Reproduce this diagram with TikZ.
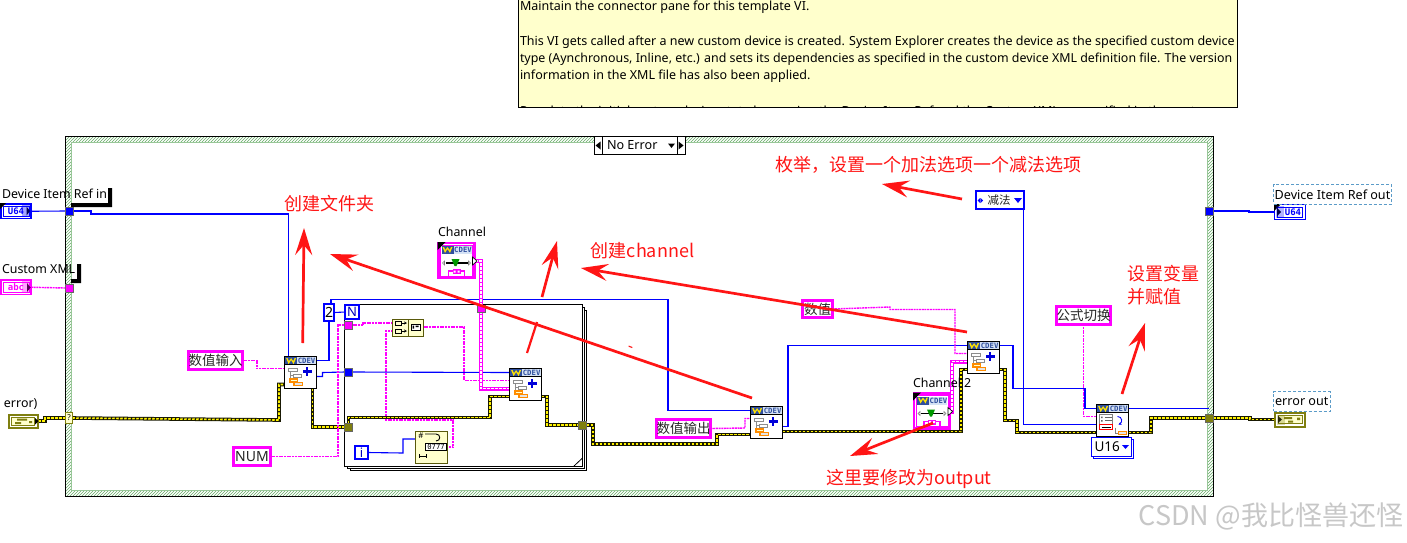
\documentclass[tikz,border=0pt]{standalone}
\usepackage{fontspec}
\setmainfont{Noto Sans}
\newfontfamily\cjk{Noto Sans CJK SC}
\newfontfamily\monob{DejaVu Sans Mono}[Scale=1]
\usetikzlibrary{arrows.meta,patterns,calc}
\pgfdeclarelayer{bg}
\pgfdeclarelayer{wires}
\pgfsetlayers{bg,wires,main}
\definecolor{lvblue}{HTML}{0000FF}
\definecolor{lvpink}{HTML}{FF00FF}
\definecolor{lvolive}{HTML}{7F7F10}
\definecolor{lvpale}{HTML}{FFFFCC}
\definecolor{lvred}{HTML}{FF1515}
\definecolor{lvdash}{HTML}{5B9BC8}
\definecolor{hdr}{HTML}{2F4F9E}
\definecolor{hdrl}{HTML}{D5E2F5}
\newcommand{\fsz}[1]{\fontsize{#1}{#1}\selectfont}
\tikzset{
  every node/.style={outer sep=0},
  bluewire/.style={draw=lvblue,line width=1.1},
  strwire/.style={draw=lvpink,line width=1.4,dash pattern=on 2 off 0.7},
  classwire/.style={draw=lvpink,line width=4,postaction={draw=white,line width=1.3,dash pattern=on 3 off 1}},
  errwire/.style={draw=black!80!lvolive,line width=3.6,postaction={draw=yellow,line width=1.6,dash pattern=on 2.5 off 1.5}},
  redarrow/.style={draw=lvred,line width=2.7,-{Stealth[length=27,width=17,inset=10]}},
  redtext/.style={text=lvred,inner sep=0,font=\cjk\fsz{18}},
  lab/.style={inner sep=0,font=\fsz{12.4},anchor=west},
  notetext/.style={inner sep=0,font=\fsz{12.52},anchor=west,text=black},
  strconst/.style={draw=lvpink,line width=3,fill=white,inner sep=0,font=\cjk\fsz{13.5},text=black!85},
  tunnel/.style={draw=black!60,line width=0.8,minimum size=8,inner sep=0},
  cdevbox/.style={draw=black,line width=1.2,fill=white,minimum width=32,minimum height=32,inner sep=0},
  palebox/.style={draw=lvolive!70!black,line width=1,fill=lvpale,inner sep=0},
  bluebox/.style={draw=lvblue,line width=2.4,fill=white,inner sep=0},
  dashlab/.style={draw=lvdash,line width=0.8,dash pattern=on 3 off 2,inner sep=0,font=\fsz{12.6},text=black},
}
% header strip shared by the CDEV icons: #1 x offset, #2 y offset, #3 width
\newcommand{\cdevhead}[3]{%
  \fill[hdrl] (#1+12,#2) rectangle (#1+#3,#2+8);
  \fill[hdr] (#1,#2) rectangle (#1+12,#2+8);
  \fill[yellow!85!orange] (#1+1,#2+1) -- (#1+3.5,#2+7) -- (#1+6,#2+3) -- (#1+8.5,#2+7) -- (#1+11,#2+1) -- (#1+9.5,#2+1) -- (#1+8.2,#2+4) -- (#1+6,#2+1) -- (#1+3.8,#2+4) -- (#1+2.5,#2+1) -- cycle;
  \node[inner sep=0,text=hdr,font=\monob\bfseries\fsz{7.3}] at (#1+21.5,#2+4.2) {CDEV};
}
% CDEV node: #1 name, #2 x left, #3 y top, #4 body drawing
\newcommand{\cdevnode}[4]{%
  \node[cdevbox,anchor=north west] (#1) at (#2,#3) {};
  \foreach \i/\d in {1/4,2/12,3/20,4/28}{
    \coordinate (#1-l\i) at (#2,#3+\d);
    \coordinate (#1-r\i) at (#2+32,#3+\d);
  }
  \begin{scope}[shift={(#2,#3)}]
    \cdevhead{0.6}{0.6}{30.8}
    \draw[black] (0,8) -- (32,8);
    #4
  \end{scope}
}
\newcommand{\plusbody}{%
  \draw[black!45,line width=0.9] (6,14) -- (6,24) -- (9,24) (6,19) -- (10,19);
  \draw[black!45,fill=white,line width=0.7] (3.5,12) rectangle (13,15);
  \draw[black!45,fill=white,line width=0.7] (9,17.5) rectangle (17,20.5);
  \draw[orange!90!yellow,fill=lvpale,line width=1.2] (5.5,22.5) rectangle (13,25.5);
  \draw[orange!90!yellow,fill=black!10,line width=1.2] (9.5,26) rectangle (18,29);
  \draw[lvblue!85!black,line width=2.2] (18.5,15) -- (27,15) (22.7,10.8) -- (22.7,19.2);
}
\newcommand{\varbody}{%
  \draw[black!50,fill=white,line width=0.7] (3,10) rectangle (16,23);
  \draw[black!60,line width=0.7] (8,12.5) -- (15,12.5) (8,16) -- (15,16);
  \fill[black!60] (4.5,12) rectangle (6,13.5) (4.5,15.5) rectangle (6,17);
  \draw[red,line width=1.2,fill=white] (3,20) rectangle (16,25);
  \draw[black,line width=0.7] (5,22.5) -- (14,22.5);
  \draw[lvblue,line width=0.9,-{Stealth[length=3,width=3]}] (21,12) .. controls (26,12) and (26,18) .. (22,20);
  \draw[black!50,line width=0.8] (19,23) -- (19,29) -- (23,29);
  \draw[orange!90!yellow,fill=black!10,line width=0.9] (22,27) rectangle (30,30);
}
% channel icon: #1 name, #2 x, #3 y
\newcommand{\chanicon}[3]{%
  \node[draw=lvpink,line width=2.2,fill=white,minimum width=36,minimum height=35,inner sep=0,anchor=north west] (#1) at (#2,#3) {};
  \coordinate (#1-out) at (#2+36,#3+18);
  \begin{scope}[shift={(#2,#3)}]
    \draw[lvpink,line width=1] (2,2) rectangle (34,33);
    \fill[black] (-1,-1) -- (7,-1) -- (-1,7) -- cycle;
    \cdevhead{3}{3}{30}
    \draw[black,line width=1.6] (7,20) -- (29,20);
    \fill[green!60!black] (13,16) -- (21,16) -- (18,23) -- (16,23) -- cycle;
    \draw[black!50,line width=0.6] (4,20) -- (6,18) -- (6,22) -- cycle (32,20) -- (30,18) -- (30,22) -- cycle;
    \draw[lvpink,line width=1.4] (10,33) -- (10,28) -- (26,28) -- (26,33);
    \fill[lvpink] (14,26) rectangle (22,31);
    \fill[white] (15,27.5) rectangle (17,29.5) (19,27.5) rectangle (21,29.5);
    \fill[white,draw=black,line width=0.6] (34,14) -- (38.5,18) -- (34,22) -- cycle;
  \end{scope}
}
\newcommand{\shadowlab}[4]{%
  \fill[black] (#1,#4-4) rectangle (#3,#4) (#3-4,#2) rectangle (#3,#4);
}
\begin{document}
\begin{tikzpicture}[x=1pt,y=-1pt]
\useasboundingbox (0,0) rectangle (1407,542);
\begin{pgfonlayer}{bg}
\fill[white] (0,0) rectangle (1407,542);
% case structure frame
\fill[white,even odd rule] (65.5,136.5) rectangle (1213.5,496.5) (71.5,142.5) rectangle (1207.5,490.5);
\fill[pattern=north east lines,pattern color=green!45!black!60,even odd rule] (65.5,136.5) rectangle (1213.5,496.5) (71.5,142.5) rectangle (1207.5,490.5);
\draw[black,line width=1.2] (65.5,136.5) rectangle (1213.5,496.5);
\draw[green!45!black!40,line width=0.5] (71.5,142.5) rectangle (1207.5,490.5);
% for loop
\draw[black,fill=white,line width=1] (350.5,310.5) rectangle (586.5,470.5);
\draw[black,fill=white,line width=1] (347.5,307.5) rectangle (584.5,468.5);
\node[draw=black,fill=white,line width=1,minimum width=238,minimum height=162,inner sep=0,anchor=north west] (loop) at (344.5,304.5) {};
\draw[black,line width=0.8] (574,466) -- (582.5,458);
\end{pgfonlayer}

% yellow note
\begin{scope}
\clip (518,-2) rectangle (1238,107.5);
\fill[lvpale] (518,-2) rectangle (1238,107);
\node[notetext] (note1) at (520,7) {Maintain the connector pane for this template VI.};
\node[notetext] (note2) at (520,42.5) {This VI gets called after a new custom device is created. System Explorer creates the device as the specified custom device};
\node[notetext,font=\fsz{12.42}] (note3) at (520,59) {type (Aynchronous, Inline, etc.) and sets its dependencies as specified in the custom device XML definition file. The version};
\node[notetext] (note4) at (520,76) {information in the XML file has also been applied.};
\node[notetext] (note5) at (520,112) {Populate the initial custom device state by passing the Device Item Ref and the Custom XML as specified in the custom};
\draw[black,line width=1] (518.5,-2) -- (518.5,107) -- (1237.5,107) -- (1237.5,-2);
\end{scope}

% selector
\node[draw=black,fill=white,line width=0.9,minimum width=75,minimum height=18,inner sep=0,font=\fsz{12.6},anchor=north west] (sel) at (602,136.5) {};
\node[inner sep=0,anchor=west,font=\fsz{12.6}] (seltext) at (607,145.5) {No Error};
\fill[black] (668,143.5) -- (675,143.5) -- (671.5,148) -- cycle;
\draw[black,fill=white,line width=0.9] (594,136.5) rectangle (602,154.5) (677,136.5) rectangle (685,154.5);
\fill[black] (600.5,141.5) -- (600.5,149.5) -- (595.5,145.5) -- cycle (678.5,141.5) -- (678.5,149.5) -- (683.5,145.5) -- cycle;

% constants / controls
\node[strconst,minimum width=54,minimum height=18.5] (numin) at (215.5,360.5) {数值输入};
\node[strconst,minimum width=37,minimum height=18,font=\fsz{14}] (num) at (252,456.5) {NUM};
\node[strconst,minimum width=54,minimum height=18.5] (numout) at (683.5,428.5) {数值输出};
\node[strconst,minimum width=30,minimum height=17.5] (numval) at (817.5,309) {数值};
\node[strconst,minimum width=54,minimum height=17.5] (formula) at (1083.5,315.5) {公式切换};
\node[bluebox,minimum width=48.5,minimum height=18] (enum) at (1000,200) {};
\node[inner sep=0,font=\cjk\fsz{11.5},text=black!85] (enumtext) at (999,200.5) {减法};
\fill[lvblue] (977.5,200.5) -- (980,198) -- (980,203) -- cycle (983,200.5) -- (980.7,198) -- (980.7,203) -- cycle;
\fill[lvblue] (1014,198) -- (1022,198) -- (1018,203) -- cycle;
\node[bluebox,minimum width=10.5,minimum height=17,font=\fsz{14}] (two) at (329,312.5) {2};
\node[bluebox,minimum width=14,minimum height=14,font=\bfseries\fsz{13},text=lvblue!75!black] (nterm) at (352,312) {N};
\node[bluebox,minimum width=13,minimum height=13,font=\bfseries\fsz{13},text=lvblue!75!black] (iterm) at (361.5,452.5) {i};

% tunnels
\node[tunnel,fill=lvblue] (t1) at (69.5,211) {};
\node[tunnel,fill=lvpink] (t2) at (69.5,288) {};
\node[draw=lvolive,fill=lvpale,line width=0.8,minimum width=6.5,minimum height=10.5,inner sep=0,font=\fsz{8}] (t3) at (69,418) {?};
\node[tunnel,fill=lvpink] (t4) at (348.5,325) {};
\node[tunnel,fill=lvblue] (t5) at (348.5,372) {};
\node[tunnel,fill=lvolive] (t6) at (348.5,427) {};
\node[tunnel,fill=lvolive] (t7) at (582.5,425) {};
\node[tunnel,fill=lvpink,minimum height=7] (t8) at (481,309) {};
\node[tunnel,fill=lvblue] (t9) at (1209,211) {};
\node[tunnel,fill=lvolive] (t10) at (1209,418) {};

% terminals
\node[draw=lvblue,line width=1.8,fill=white,minimum width=30,minimum height=14.5,inner sep=0,anchor=north west,font=\monob\bfseries\fsz{9},text=lvblue] (uin) at (1,204) {U64\hspace{2pt}};
\node[draw=lvpink,line width=1.8,fill=white,minimum width=30,minimum height=14.5,inner sep=0,anchor=north west,font=\monob\bfseries\fsz{9},text=lvpink] (abc) at (1,280) {abc\hspace{2pt}};
\draw[lvblue,line width=0.7] (3,206) rectangle (29,216.5);
\draw[lvpink,line width=0.7] (3,282) rectangle (29,292.5);
\node[draw=lvolive,line width=2,fill=white,minimum width=29,minimum height=13,inner sep=0,anchor=north west] (errin) at (9,414.5) {};
\draw[lvolive,fill=lvpale,line width=0.9] (11.5,417) rectangle (34,425);
\fill[lvolive] (17,418.5) rectangle (27,420.5) (15,422) rectangle (21,424) (29,421) rectangle (32,423);
\node[draw=lvblue,line width=1.2,fill=white,minimum width=31,minimum height=15,inner sep=0,anchor=north west,font=\monob\bfseries\fsz{9},text=lvblue] (uout) at (1274.5,204.5) {\hspace{6pt}U64};
\draw[lvblue,line width=0.7] (1277,207) rectangle (1302.5,217);
\node[draw=lvolive,line width=2,fill=white,minimum width=30,minimum height=14,inner sep=0,anchor=north west] (errout) at (1275,412.5) {};
\draw[lvolive,fill=lvpale,line width=0.9] (1278,415.5) rectangle (1302,423.5);
\fill[lvolive] (1284,417) rectangle (1292,419) (1288,420.5) rectangle (1293,422.5) (1297,417.5) rectangle (1300,420);
\fill[black] (26.5,206.5) -- (30,211) -- (26.5,215.5) -- cycle (27,283) -- (30.5,287.5) -- (27,292) -- cycle (35,418) -- (38.5,421) -- (35,424.5) -- cycle;
\fill[lvblue,opacity=.35] (22,205) rectangle (30,217);
\fill[lvpink,opacity=.35] (22,281) rectangle (30,293);
\fill[black] (0,203) -- (6,203) -- (0,209) -- cycle;
\fill[black] (1274,204) -- (1281,204) -- (1274,211) -- cycle;
\fill[black] (1277,208) -- (1277,216) -- (1281,212) -- cycle;
\fill[black] (1278,416) -- (1278,423) -- (1282,419.5) -- cycle;
\fill[lvblue,opacity=.3] (1276,206) rectangle (1284,218);
\fill[lvolive,opacity=.3] (1277,415) rectangle (1285,425);

% icons
\cdevnode{n1}{284.5}{356.5}{\plusbody}
\cdevnode{n3}{509.5}{368.5}{\plusbody}
\cdevnode{n2}{750.5}{406.5}{\plusbody}
\cdevnode{n4}{967.5}{341.5}{\plusbody}
\cdevnode{n5}{1096.5}{404.5}{\varbody}
\chanicon{ch1}{438.5}{243}
\chanicon{ch2}{914}{393.5}

% pale nodes
\node[palebox,minimum width=31,minimum height=16.5,anchor=north west] (fmt) at (392.5,319.5) {};
\coordinate (fmt-a) at (392.5,323);
\coordinate (fmt-b) at (392.5,331);
\coordinate (fmt-o) at (423.5,327);
\draw[lvolive!70!black,line width=0.9] (408,319.5) -- (408,336);
\draw[black,line width=0.7] (395,321) rectangle (401,325) (395,329) rectangle (401,333);
\draw[black,line width=1,-{Stealth[length=3,width=3]}] (401,323) -- (407,323);
\draw[black,line width=1,-{Stealth[length=3,width=3]}] (401,331) -- (407,331);
\draw[black,line width=0.8,fill=white] (411,324) rectangle (420,330);
\fill[black] (412.5,325.5) rectangle (414,328.5) (415.5,325.5) rectangle (418.5,327);
\node[palebox,minimum width=31.5,minimum height=31.5,anchor=north west] (pathn) at (415.5,431.5) {};
\coordinate (pathn-i) at (415.5,439);
\coordinate (pathn-o) at (447,447);
\node[inner sep=0,font=\bfseries\fsz{8}] (hash) at (421,436) {\#};
\draw[black,line width=0.9] (425,434) -- (436,434) (436,434) .. controls (441,434) and (441,441) .. (436,441);
\node[draw=black,fill=white,line width=0.7,minimum width=21,minimum height=7.5,inner sep=0,font=\monob\fsz{7.2}] (oct) at (436,447) {0777};
\draw[black,line width=0.8] (419,456) -- (426,456) (419,454) -- (419,458) (426,454) -- (426,458);

% wires
\begin{pgfonlayer}{wires}
\draw[bluewire] (uin.east) -- (t1.west);
\draw[strwire] (abc.east) -- (t2.west);
\draw[errwire] (errin.east) -- ++(7,0) |- (t3.west);
\draw[bluewire] (t1.east) -- (91,211) -- (91,214) -| ($(n1.north west)+(4,0)$);
\draw[strwire] (numin.east) -- (257,360.5) |- (n1-l2);
\draw[errwire] (t3.east) -- (279,420) |- (n1-l4);
\draw[bluewire] (n1-r1) -| (two.south);
\draw[bluewire] (n1-r3) -- ++(6,0) -- ++(0,-4) -- (t5.west);
\draw[errwire] ($(n1.south west)+(28,0)$) |- (t6.west);
\draw[bluewire] (two.east) -- (nterm.west);
\draw[bluewire] (two.north) ++(2,0) |- (668,299.5) |- (n2-l1);
\draw[strwire] (num.east) -- (338,456.5) |- (t4.west);
\draw[strwire] (t4.east) -- (363,325) -- (363,323) -- (fmt-a);
\draw[strwire] (fmt-b) -- (386,331) |- (453,420) |- (pathn-o);
\draw[strwire] (fmt-o) -- (464,327) |- (n3-l2);
\draw[bluewire] (iterm.east) -- (403,453) |- (pathn-i);
\draw[bluewire] (t5.east) -- (n3-l1);
\draw[errwire] (t6.north) |- (490,417.5) |- (n3-l4);
\draw[errwire] (n3-r4) -- (547,396.5) |- (t7.west);
\draw[errwire] (t7.east) -- (593,425) |- (717,444) |- (n2-l4);
\draw[classwire] (ch1-out) -- (481,261) -- (481,388.5) -- (n3-l3);
\draw[strwire] (numout.east) -- (745,428) |- (n2-l2);
\draw[bluewire] ($(n2.north east)+(0,20)$) -- (788,426.5) |- (n4-l1);
\draw[errwire] ($(n2.north east)+(0,25)$) -- (961,431.5) |- (n4-l4);
\draw[classwire] (ch2-out) -- (952,411.5) |- (n4-l3);
\draw[strwire] (numval.east) -- (890,307) -- (890,309.5) -- (955,309.5) |- (n4-l2);
\draw[bluewire] (n4-r1) -- (1013,345.5) |- (1085,388.5) |- (n5-l1);
\draw[errwire] (n4-r4) -- (1005,369.5) |- (1017,420.5) |- (n5-l4);
\draw[bluewire] (enum.south) ++(23.5,0) -- (1023.5,424.5) -- (n5-l3);
\draw[strwire] (formula.south) -- (1083.5,416.5) -- (n5-l2);
\draw[bluewire] (n5-r1) -- (t9.south |- n5-r1);
\draw[errwire] (n5-r4) -- (1151,432.5) |- (t10.west);
\draw[bluewire] (t9.east) -- (1249,211) -- (1249,212) -- (uout.west);
\draw[errwire] (t10.east) -- (1250,418) -- (1250,419.5) -- (errout.west);
\end{pgfonlayer}

% U16
\draw[lvblue,line width=1,fill=white] (1093,439.5) rectangle (1133.5,458);
\node[draw=lvblue,line width=1,fill=white,minimum width=40,minimum height=19,inner sep=0,anchor=north west] (u16) at (1091.5,437.5) {};
\node[inner sep=0,anchor=west,font=\fsz{13.5}] (u16t) at (1094.5,447) {U16};
\fill[lvblue] (1122,445) -- (1129,445) -- (1125.5,449) -- cycle;

% labels
\shadowlab{71}{188}{112}{207}
\node[lab] (lb1) at (2,193.5) {Device Item Ref in};
\shadowlab{71}{264}{81}{283}
\node[lab] (lb2) at (2,269.5) {Custom XML};
\node[lab] (lb3) at (4,404) {error)};
\node[lab] (lb4) at (438,231.5) {Channel};
\node[lab] (lb5) at (913,382.5) {Channel 2};
\node[dashlab,anchor=north west,minimum width=118,minimum height=19.5] (lb6) at (1273.5,184.5) {Device Item Ref out};
\node[dashlab,anchor=north west,minimum width=56.5,minimum height=19.5] (lb7) at (1273.5,391.5) {error out};

% red annotation
\node[redtext] (r1) at (329,204) {创建文件夹};
\node[redtext] (r2) at (642.5,250.5) {创建channel};
\node[redtext] (r3) at (928,165) {枚举，设置一个加法选项一个减法选项};
\node[redtext] (r4) at (1163,273.5) {设置变量};
\node[redtext,anchor=west] (r5) at (1127,296.5) {并赋值};
\node[redtext] (r6) at (909,478.5) {这里要修改为output};
\coordinate (a1s) at (302.7,343); \coordinate (a1e) at (304,228);
\coordinate (a2s) at (752,398); \coordinate (a2e) at (330,254);
\coordinate (a3s) at (542,297); \coordinate (a3e) at (557,241);
\coordinate (a4s) at (967,332); \coordinate (a4e) at (581,268);
\coordinate (a5s) at (962,199); \coordinate (a5e) at (882,184);
\coordinate (a6s) at (933,423); \coordinate (a6e) at (850,456);
\coordinate (a7s) at (1122,394); \coordinate (a7e) at (1145,323);
\coordinate (a8s) at (527,353); \coordinate (a8e) at (537,322);
\foreach \k in {1,...,7}{\draw[redarrow] (a\k s) -- (a\k e);}
\draw[lvred,line width=2.2] (a8s) -- (a8e);
\fill[lvred] (628.5,345.5) -- (632.5,347) -- (632,348) -- (628.5,346.7) -- cycle;

% watermark
\node[inner sep=0,anchor=east,font=\cjk\fsz{27},text=black!22] (wm) at (1403,516.5) {CSDN @我比怪兽还怪};
\end{tikzpicture}
\end{document}
